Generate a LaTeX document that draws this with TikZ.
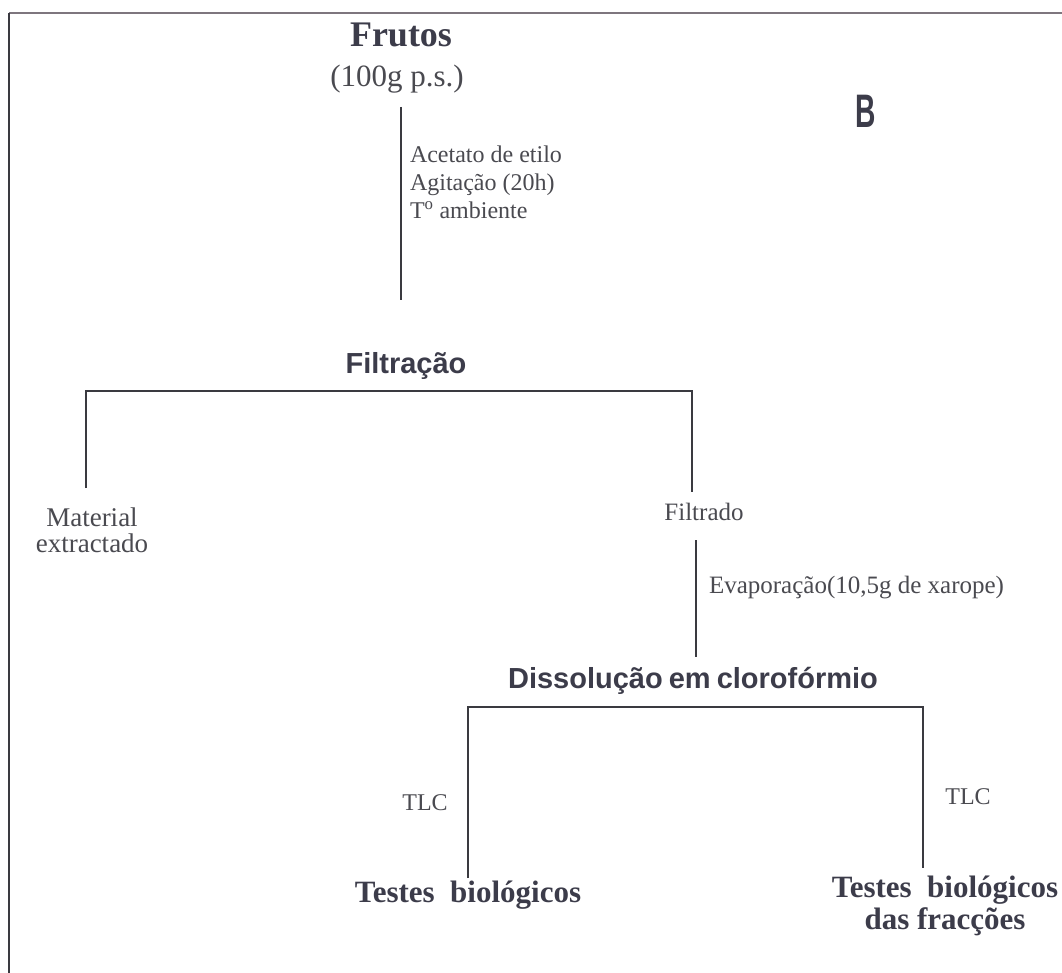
\documentclass[tikz,border=0pt]{standalone}
\usepackage{fontspec}
\setmainfont{Liberation Serif}
\newfontfamily\arialfont{Liberation Sans}
\definecolor{ink}{HTML}{3C3C4A}
\definecolor{softink}{HTML}{4A4A50}
\definecolor{rule}{HTML}{3A3A40}
\definecolor{frame}{HTML}{7E767E}

\begin{document}
\begin{tikzpicture}[x=1pt,y=-1pt,
  every node/.style={inner sep=0pt, outer sep=0pt},
  serifbold/.style={font=\fontsize{36}{40}\selectfont\bfseries, text=ink},
  serifbig/.style={font=\fontsize{31}{34}\selectfont, text=softink},
  note/.style={font=\fontsize{24}{28}\selectfont, text=softink},
  stagebold/.style={font=\arialfont\bfseries\fontsize{29}{32}\selectfont, text=ink},
  result/.style={font=\fontsize{31}{32}\selectfont\bfseries, text=ink, align=center},
  plain/.style={font=\fontsize{27}{26}\selectfont, text=softink, align=center},
  conn/.style={draw=rule, line width=1.6pt}]

\useasboundingbox (0,0) rectangle (1062,973);
\fill[white] (0,0) rectangle (1062,973);

% outer frame (top and left edges only)
\draw[frame, line width=2.6pt] (9,13) -- (1062,13);
\draw[rule, line width=1.8pt] (9,13) -- (9,973);

% panel letter
\node[text=ink] (panel) at (866,111)
  {\scalebox{0.6}[1]{\arialfont\bfseries\fontsize{47}{47}\selectfont B}};

% starting material
\node[serifbold, anchor=base] (frutos) at (401,47) {Frutos};
\node[serifbig, anchor=base] (ps) at (397,87) {(100g p.s.)};

% extraction step (multi-line nodes sit on the baseline of their last line)
\coordinate (x1top) at (401,107);
\node[stagebold, anchor=base] (filt) at (406,373) {Filtração};
\draw[conn] (x1top) -- (x1top |- 0,300);
\node[note, anchor=base west, align=left] (cond) at (410,219)
  {Acetato de etilo\\Agitação (20h)\\T\textsuperscript{o} ambiente};

% filtration bracket
\coordinate (b1l) at (86,391);
\coordinate (b1r) at (692,391);
\node[plain, anchor=base] (mat) at (92,552) {Material\\extractado};
\node[note, font=\fontsize{25}{28}\selectfont, anchor=base] (filtrado) at (704,520) {Filtrado};
\draw[conn] (b1l |- 0,488) -- (b1l) -- (b1r) -- (b1r |- 0,492);

% evaporation
\coordinate (evtop) at (696,540);
\node[stagebold, anchor=base] (diss) at (693,688)
  {Dissolução\hspace{-2pt} em\hspace{-2pt} clorofórmio};
\draw[conn] (evtop) -- (evtop |- 0,657);
\node[note, font=\fontsize{25}{28}\selectfont, anchor=base west] (evap) at (709,593) {Evaporação(10,5g de xarope)};

% chloroform bracket
\coordinate (b2l) at (468,707);
\coordinate (b2r) at (923,707);
\node[result, anchor=base] (tb1) at (468,902) {Testes\ \ biológicos};
\node[result, anchor=base] (tb2) at (945,929) {Testes\ \ biológicos\\das fracções};
\draw[conn] (b2l |- 0,878) -- (b2l) -- (b2r) -- (b2r |- 0,868);
\node[note] (tlc1) at (425,803) {TLC};
\node[note] (tlc2) at (968,797) {TLC};

\end{tikzpicture}
\end{document}
